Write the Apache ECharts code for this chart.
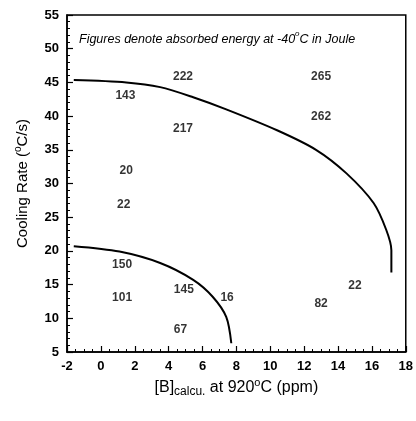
<!DOCTYPE html>
<html>
<head>
<meta charset="utf-8">
<script src="https://cdn.jsdelivr.net/npm/echarts@6/dist/echarts.min.js"></script>
<style>
	html, body { margin: 0; padding: 0; background: #fff; }
	#chart { width: 416px; height: 421px; }
</style>
</head>
<body>
<div id="chart"></div>
<script>
	// absorbed energy labels (J) at [B] / cooling rate
	const boron = [4.85, 13.0, 1.45, 13.0, 4.85, 1.5, 1.35, 1.25, 4.9, 1.25, 7.45, 4.7, 13.0, 15.0];
	const rate = [45.8, 45.85, 43.0, 39.9, 38.2, 31.9, 26.8, 18.0, 14.2, 13.1, 13.05, 8.3, 12.1, 14.9];
	const energy = ["222", "265", "143", "262", "217", "20", "22", "150", "145", "101", "16", "67", "82", "22"];

	// boundary curves
	const outerX = [-1.6, 1.5, 3.5, 5.45, 7.4, 10.4, 12.7, 14.5, 16.1, 16.85, 17.15, 17.15];
	const outerY = [45.35, 45.0, 44.3, 42.8, 41.0, 37.9, 35.0, 31.5, 27.1, 23.1, 20.1, 16.8];
	const innerX = [-1.6, 1.1, 3.5, 5.45, 6.6, 7.4, 7.7];
	const innerY = [20.7, 19.9, 18.2, 15.7, 13.2, 10.2, 6.3];

	const xTicks = [-2, 0, 2, 4, 6, 8, 10, 12, 14, 16, 18];

	const zip = (a, b) => a.map((v, i) => [v, b[i]]);
	const font = "'Liberation Sans', Arial, sans-serif";

	let myChart = echarts.init(document.getElementById("chart"));
	let axisCommon = {
		axisLine: { onZero: false, lineStyle: { color: "#000", width: 1.5 } },
		axisTick: { inside: true, length: 6, lineStyle: { color: "#000", width: 1.2 } },
		minorTick: { show: true, length: 3, lineStyle: { color: "#000", width: 1 } },
		splitLine: { show: false },
		axisLabel: { color: "#000", fontSize: 13, fontWeight: "bold", fontFamily: font, margin: 8 },
	};
	let option = {
		animation: false,
		grid: {
			left: 67, right: 10, top: 15, bottom: 69,
			show: true, borderColor: "#000", borderWidth: 1.5,
		},
		graphic: [{
			type: "text",
			left: 79, top: 30,
			style: {
				text: "{t|Figures denote absorbed energy at -40}{s|o}{t|C in Joule}",
				rich: {
					t: { fontSize: 12.5, fontStyle: "italic", fontFamily: font, fill: "#000", verticalAlign: "bottom", lineHeight: 16 },
					s: { fontSize: 8, fontStyle: "italic", fontFamily: font, fill: "#000", verticalAlign: "top", lineHeight: 16 },
				},
			},
		}],
		xAxis: Object.assign({}, axisCommon, {
			type: "value",
			min: -2, max: 18, interval: 2,
			minorTick: Object.assign({}, axisCommon.minorTick, { splitNumber: 4 }),
			axisLabel: Object.assign({}, axisCommon.axisLabel, {
				formatter: v => xTicks.includes(v) ? String(v) : "",
			}),
			name: "{t|[B]}{sub|calcu.}{t| at 920}{sup|o}{t|C (ppm)}",
			nameLocation: "middle",
			nameGap: 21,
			nameTextStyle: {
				rich: {
					t: { fontSize: 16, fontFamily: font, color: "#000", verticalAlign: "middle", lineHeight: 20 },
					sub: { fontSize: 12, fontFamily: font, color: "#000", verticalAlign: "bottom", lineHeight: 20, padding: [6, 0, 0, 0] },
					sup: { fontSize: 11, fontFamily: font, color: "#000", verticalAlign: "top", lineHeight: 20, padding: [0, 0, 4, 0] },
				},
			},
		}),
		yAxis: Object.assign({}, axisCommon, {
			type: "value",
			min: 5, max: 55, interval: 5,
			minorTick: Object.assign({}, axisCommon.minorTick, { splitNumber: 5 }),
			name: "{t|Cooling Rate (}{sup|o}{t|C/s)}",
			nameLocation: "middle",
			nameGap: 34,
			nameTextStyle: {
				rich: {
					t: { fontSize: 15, fontFamily: font, color: "#000", verticalAlign: "middle", lineHeight: 20 },
					sup: { fontSize: 10, fontFamily: font, color: "#000", verticalAlign: "top", lineHeight: 20 },
				},
			},
		}),
		series: [{
			type: "scatter",
			data: zip(boron, rate).map((p, i) => ({ value: p, name: energy[i] })),
			symbolSize: 0,
			label: {
				show: true, position: "inside",
				formatter: p => p.name,
				color: "#000", fontSize: 12, fontWeight: "bold", fontFamily: font,
			},
		}, {
			type: "line",
			data: zip(outerX, outerY),
			smooth: 0.3,
			showSymbol: false,
			lineStyle: { color: "#000", width: 2 },
		}, {
			type: "line",
			data: zip(innerX, innerY),
			smooth: 0.3,
			showSymbol: false,
			lineStyle: { color: "#000", width: 2 },
		}],
	};
	myChart.setOption(option);
</script>
</body>
</html>
